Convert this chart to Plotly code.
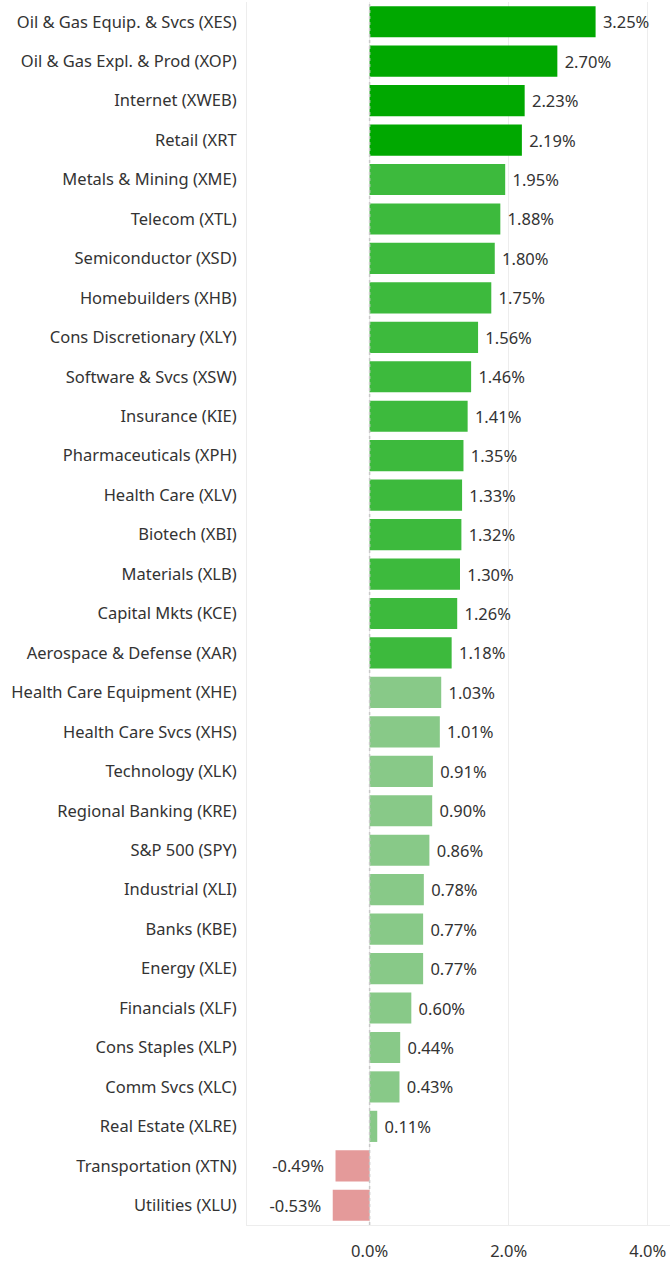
import plotly.graph_objects as go

categories = [
    "Oil & Gas Equip. & Svcs (XES)", "Oil & Gas Expl. & Prod (XOP)", "Internet (XWEB)", "Retail (XRT",
    "Metals & Mining (XME)", "Telecom (XTL)", "Semiconductor (XSD)", "Homebuilders (XHB)",
    "Cons Discretionary (XLY)", "Software & Svcs (XSW)", "Insurance (KIE)", "Pharmaceuticals (XPH)",
    "Health Care (XLV)", "Biotech (XBI)", "Materials (XLB)", "Capital Mkts (KCE)",
    "Aerospace & Defense (XAR)", "Health Care Equipment (XHE)", "Health Care Svcs (XHS)",
    "Technology (XLK)", "Regional Banking (KRE)", "S&P 500 (SPY)", "Industrial (XLI)",
    "Banks (KBE)", "Energy (XLE)", "Financials (XLF)", "Cons Staples (XLP)", "Comm Svcs (XLC)",
    "Real Estate (XLRE)", "Transportation (XTN)", "Utilities (XLU)",
]
values = [3.25, 2.70, 2.23, 2.19, 1.95, 1.88, 1.80, 1.75, 1.56, 1.46, 1.41, 1.35, 1.33, 1.32,
          1.30, 1.26, 1.18, 1.03, 1.01, 0.91, 0.90, 0.86, 0.78, 0.77, 0.77, 0.60, 0.44, 0.43,
          0.11, -0.49, -0.53]
tick_vals = [0, 2, 4]
tick_text = ["0.0%", "2.0%", "4.0%"]

FONT = "Noto Sans"
FS = 16.5


def color_for(v):
    if v < 0:
        return "#e49a9a"
    if v >= 2.0:
        return "#00a800"
    if v >= 1.1:
        return "#3dba3d"
    return "#88c988"


def label_for(v):
    s = f"{v:.2f}%"
    return s + "\u00a0\u00a0" if v < 0 else "\u00a0" + s


fig = go.Figure(go.Bar(
    x=values,
    y=categories,
    orientation="h",
    marker=dict(color=[color_for(v) for v in values], line=dict(width=0)),
    text=[label_for(v) for v in values],
    textposition="outside",
    textfont=dict(size=FS, color="#333333", family=FONT),
    cliponaxis=False,
    hoverinfo="skip",
))

fig.add_shape(type="line", x0=0, x1=0, y0=0, y1=1, xref="x", yref="paper",
              line=dict(color="#c8c8c8", width=1.5, dash="dot"))

fig.update_layout(
    width=670, height=1261,
    margin=dict(l=247, r=0, t=2, b=36, autoexpand=False),
    plot_bgcolor="white", paper_bgcolor="white",
    bargap=0.21,
    showlegend=False,
    font=dict(family=FONT, size=FS, color="#333333"),
    xaxis=dict(
        range=[-1.763, 4.32], tickvals=tick_vals, ticktext=tick_text,
        showgrid=True, gridcolor="#ededed", gridwidth=1, zeroline=False,
        showline=True, linecolor="#ededed", linewidth=1,
        ticklabelstandoff=11,
        tickfont=dict(size=FS, color="#333333"), fixedrange=True,
    ),
    yaxis=dict(
        autorange="reversed", showgrid=False, zeroline=False,
        showline=True, linecolor="#ededed", linewidth=1,
        ticklabelstandoff=6,
        tickfont=dict(size=FS, color="#333333"), fixedrange=True,
    ),
)

fig.write_html("out.html", config={"displayModeBar": False},
               post_script="document.body.style.margin='0';")
